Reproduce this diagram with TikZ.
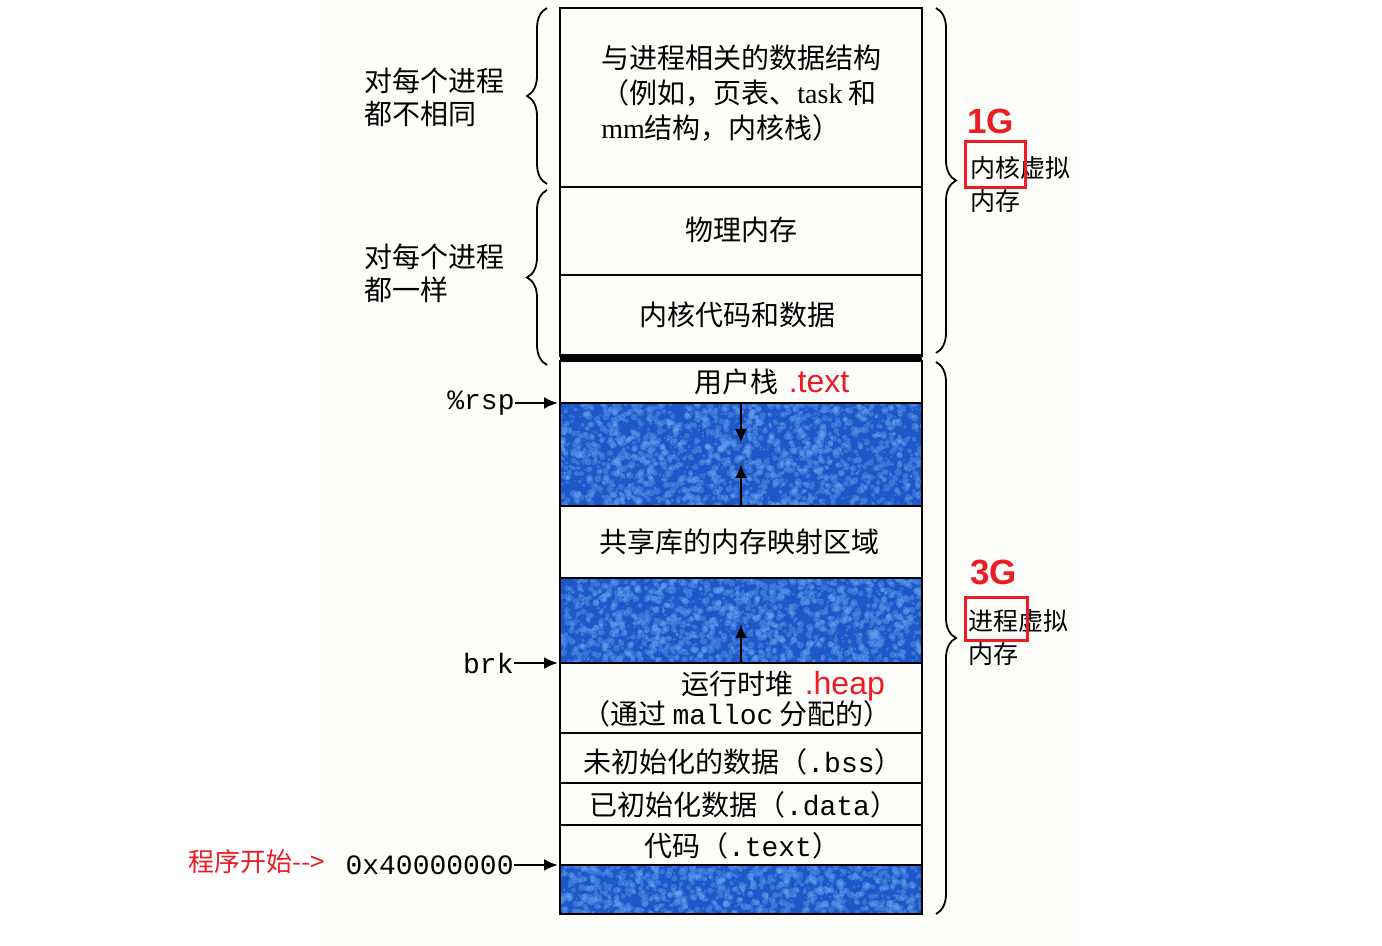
\documentclass[tikz,border=0pt]{standalone}
\usepackage{fontspec}
\setmainfont{Liberation Serif}
\newfontfamily\cjk{Noto Sans CJK SC}
\newfontfamily\mono{Liberation Mono}
\newfontfamily\ars{Liberation Sans}
\usetikzlibrary{decorations.pathreplacing,arrows.meta,calc}
\definecolor{memblue}{RGB}{30,88,200}
\definecolor{speck}{RGB}{110,170,245}
\definecolor{paper}{RGB}{253,253,250}
\definecolor{redlab}{RGB}{235,28,36}
\newcommand\bluespeck[5]{%
  \fill[memblue] (#1,#2) rectangle ++(#3,#4);
  \begin{scope}
    \clip (#1,#2) rectangle ++(#3,#4);
    \foreach \i in {1,...,#5} {
      \pgfmathsetmacro\px{#1+rnd*#3}
      \pgfmathsetmacro\py{#2+rnd*#4}
      \pgfmathsetmacro\pr{0.4+rnd*1.4}
      \fill[speck,opacity=0.35] (\px,\py) circle (\pr pt);
    }
  \end{scope}
  \draw[frame] (#1,#2) rectangle ++(#3,#4);
}
\begin{document}
\begin{tikzpicture}[x=0.5pt,y=-0.5pt,
  frame/.style={draw=black,line width=1.2pt},
  cjklab/.style={font=\cjk\fontsize{14}{17}\selectfont,inner sep=0pt},
  sidelab/.style={font=\cjk\fontsize{14}{16.5}\selectfont,inner sep=0pt,align=left},
  rightlab/.style={font=\cjk\fontsize{12.5}{16.5}\selectfont,inner sep=0pt,align=left},
  monolab/.style={font=\mono\fontsize{14}{17}\selectfont,inner sep=0pt},
  redsans/.style={font=\ars\fontsize{16}{19}\selectfont,text=redlab,inner sep=0pt},
  redbig/.style={font=\ars\bfseries\fontsize{17.5}{20}\selectfont,text=redlab,inner sep=0pt},
  redbox/.style={draw=redlab,line width=1.5pt},
  ptr/.style={line width=1.2pt,-{Latex[length=7pt,width=6pt]}},
  growarr/.style={line width=1.2pt,-{Latex[length=7pt,width=6pt]}},
  bracel/.style={decorate,decoration={brace,amplitude=10pt},line width=0.9pt},
]
\useasboundingbox (0,0) rectangle (1382,946);
\fill[white] (0,0) rectangle (1382,946);
\fill[paper] (320,0) rectangle (1080,946);
\pgfmathsetseed{7}

% ---- segments ----
\draw[frame] (560,8) rectangle (922,187);
\draw[frame] (560,187) rectangle (922,275);
\draw[frame] (560,275) rectangle (922,356);
\fill[black] (560,354) rectangle (922,361);
\draw[frame] (560,361) rectangle (922,403);
\bluespeck{560}{403}{362}{103}{1900}
\draw[frame] (560,506) rectangle (922,578);
\bluespeck{560}{578}{362}{85}{1600}
\draw[frame] (560,663) rectangle (922,733);
\draw[frame] (560,733) rectangle (922,783);
\draw[frame] (560,783) rectangle (922,825);
\draw[frame] (560,825) rectangle (922,865);
\bluespeck{560}{865}{362}{49}{950}

% ---- texts in segments ----
\node[cjklab,align=left,anchor=west,font=\cjk\fontsize{14}{17.5}\selectfont] (kds) at (601,93)
  {与进程相关的数据结构\\（例如，页表、{\rmfamily task} 和\\{\rmfamily mm}结构，内核栈）};
\node[cjklab] (phys) at (741,230) {物理内存};
\node[cjklab] (kcode) at (737,315) {内核代码和数据};
\node[cjklab] (ustack) at (736,382) {用户栈};
\node[redsans,anchor=base west] (ustext) at ($(ustack.base east)+(10,0)$) {.text};
\node[cjklab] (heap) at (737,684) {运行时堆};
\node[redsans,anchor=base west] (heapred) at ($(heap.base east)+(11,0)$) {.heap};
\node[cjklab] (malloc) at (737,714) {（通过 {\mono\fontsize{14}{17}\selectfont malloc} 分配的）};
\node[cjklab] (shlib) at (739,542) {共享库的内存映射区域};
\node[cjklab] (bss) at (743,762) {未初始化的数据（{\mono\fontsize{14}{17}\selectfont .bss}）};
\node[cjklab] (data) at (744,805) {已初始化数据（{\mono\fontsize{14}{17}\selectfont .data}）};
\node[cjklab] (text) at (742,846) {代码（{\mono\fontsize{14}{17}\selectfont .text}）};

% ---- growth arrows ----
\coordinate (s1) at (741,403);
\coordinate (s2) at (741,443);
\coordinate (h1) at (741,506);
\coordinate (h2) at (741,464);
\coordinate (m1) at (741,663);
\coordinate (m2) at (741,624);
\draw[growarr] (s1) -- (s2);
\draw[growarr] (h1) -- (h2);
\draw[growarr] (m1) -- (m2);

% ---- left labels & braces ----
\coordinate (lb1t) at (547,8);
\coordinate (lb1b) at (547,184);
\coordinate (lb2t) at (547,190);
\coordinate (lb2b) at (547,365);
\draw[bracel] (lb1b) -- (lb1t);
\draw[bracel] (lb2b) -- (lb2t);
\node[sidelab,anchor=west] (diff) at (364,97) {对每个进程\\都不相同};
\node[sidelab,anchor=west] (same) at (364,273) {对每个进程\\都一样};

\node[monolab,anchor=east] (rsp) at (515,403) {\%rsp};
\node[monolab,anchor=east] (brk) at (514,663) {brk};
\node[monolab,anchor=east] (addr) at (514,865) {0x40000000};
\node[cjklab,anchor=west,text=redlab,font=\cjk\fontsize{13}{16}\selectfont] (start) at (188,862) {程序开始-->};
\coordinate (rspE) at (558,403);
\coordinate (brkE) at (558,663);
\coordinate (addrE) at (558,865);
\draw[ptr] (rsp.east) -- (rspE);
\draw[ptr] (brk.east) -- (brkE);
\draw[ptr] (addr.east) -- (addrE);

% ---- right braces & labels ----
\coordinate (rb1t) at (936,8);
\coordinate (rb1b) at (936,353);
\coordinate (rb2t) at (936,362);
\coordinate (rb2b) at (936,914);
\draw[bracel] (rb1t) -- (rb1b);
\draw[bracel] (rb2t) -- (rb2b);

\node[redbig,anchor=west] (g1) at (967,121) {1G};
\node[rightlab,anchor=north west] (kvm) at (970,156) {内核虚拟\\内存};
\draw[redbox] (965,142) rectangle (1025,188);
\node[redbig,anchor=west] (g3) at (970,572) {3G};
\node[rightlab,anchor=north west] (pvm) at (968,609) {进程虚拟\\内存};
\draw[redbox] (965,597) rectangle (1027,640);
\end{tikzpicture}
\end{document}
